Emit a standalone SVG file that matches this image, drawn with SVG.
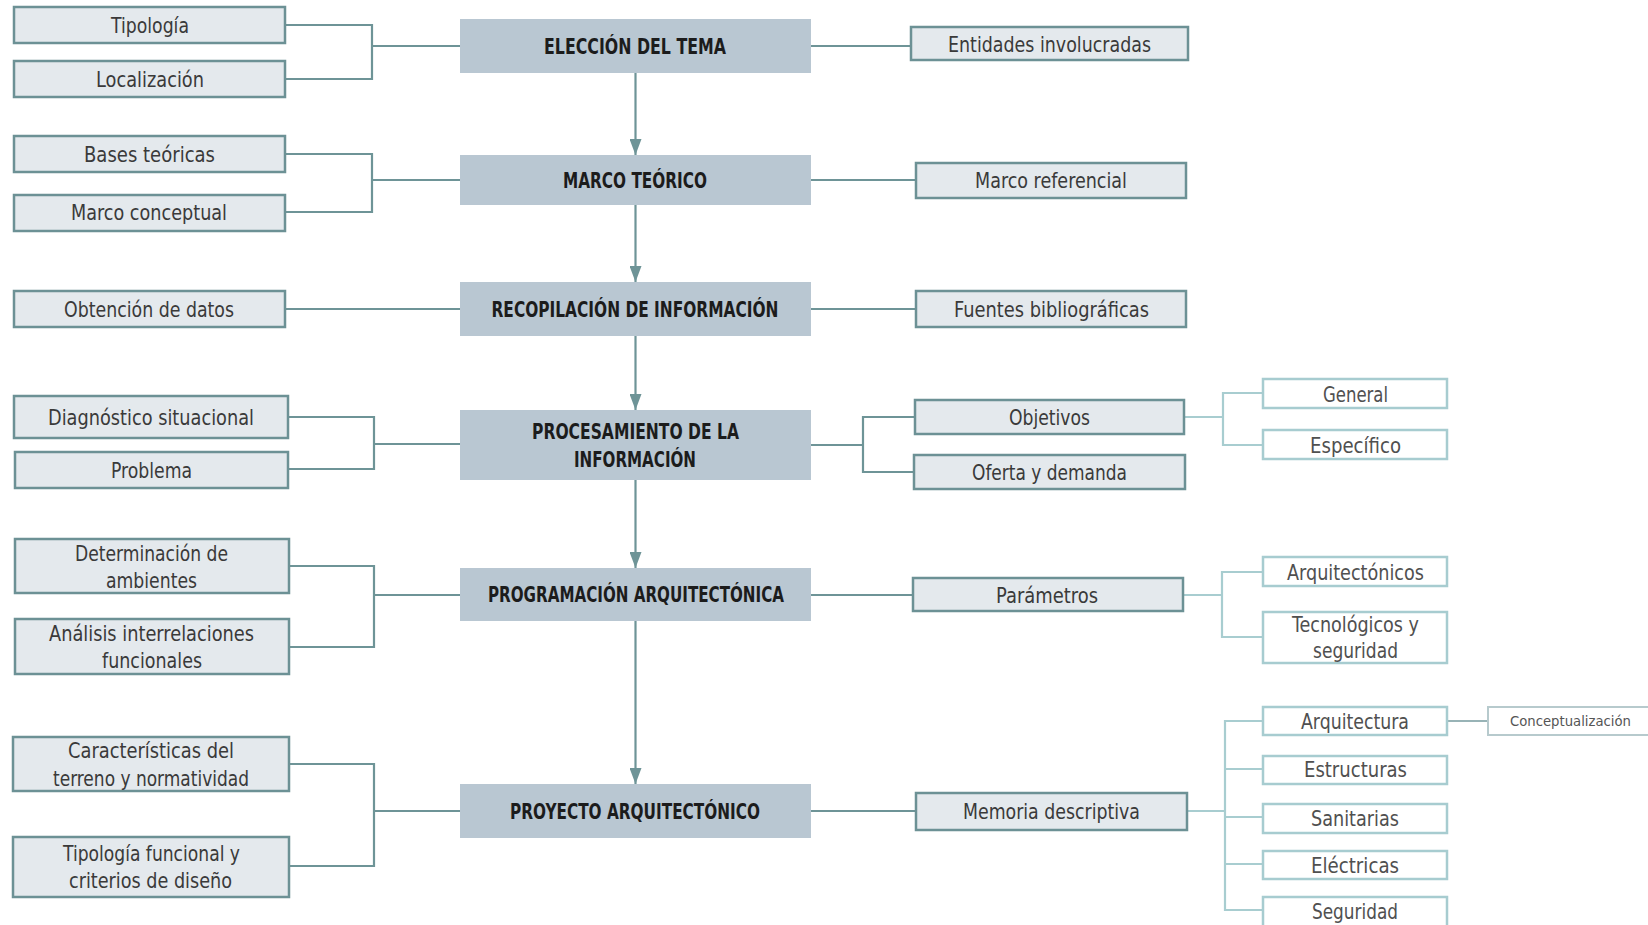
<svg xmlns="http://www.w3.org/2000/svg" width="1648" height="925" viewBox="0 0 1648 925">
<style>
  text { font-family: "DejaVu Sans Condensed", "Liberation Sans", sans-serif; text-anchor: middle; }
  .main rect { fill: #b9c7d2; }
  .main text { font-size: 21px; font-weight: bold; fill: #1c1c1c; }
  .sec rect { fill: #e4e9ed; stroke: #6c9195; stroke-width: 2.5; }
  .sec text { font-size: 20.5px; fill: #3a3a3a; }
  .ter rect { fill: #ffffff; stroke: #a7ccd0; stroke-width: 2.5; }
  .ter text { font-size: 20.5px; fill: #505050; }
  .con rect { fill: #ffffff; stroke: #b7cacd; stroke-width: 2; }
  .con text { font-size: 14.5px; fill: #555555; }
  .dark { fill: none; stroke: #6e9497; stroke-width: 2.2; }
  .light { fill: none; stroke: #a8cdd0; stroke-width: 2.2; }
  .mid { fill: none; stroke: #98b3b6; stroke-width: 2; }
</style>
<defs>
  <marker id="ah" markerUnits="userSpaceOnUse" markerWidth="16" markerHeight="12" refX="16" refY="6" orient="auto" viewBox="0 0 16 12">
    <path d="M0,0 L16,6 L0,12 z" fill="#6e9497"/>
  </marker>
</defs>
<rect x="0" y="0" width="1648" height="925" fill="#ffffff"/>

<g id="connectors">
  <path class="dark" d="M635.5,73 V155" marker-end="url(#ah)"/>
  <path class="dark" d="M635.5,205 V282" marker-end="url(#ah)"/>
  <path class="dark" d="M635.5,336 V410" marker-end="url(#ah)"/>
  <path class="dark" d="M635.5,480 V568" marker-end="url(#ah)"/>
  <path class="dark" d="M635.5,621 V784" marker-end="url(#ah)"/>

  <path class="dark" d="M285,25 H372 V79 H285 M372,46 H460"/>
  <path class="dark" d="M285,154 H372 V212 H285 M372,180 H460"/>
  <path class="dark" d="M285,309 H460"/>
  <path class="dark" d="M288,417 H374 V469 H288 M374,444 H460"/>
  <path class="dark" d="M288,566 H374 V647 H288 M374,595 H460"/>
  <path class="dark" d="M289,764 H374 V866 H289 M374,811 H460"/>

  <path class="dark" d="M811,46 H911"/>
  <path class="dark" d="M811,180 H916"/>
  <path class="dark" d="M811,309 H916"/>
  <path class="dark" d="M811,445 H863 M914,417 H863 V472 H914"/>
  <path class="dark" d="M811,595 H913"/>
  <path class="dark" d="M811,811 H916"/>

  <path class="light" d="M1184,417 H1223 M1263,393 H1223 V445 H1263"/>
  <path class="light" d="M1182,595 H1222 M1263,572 H1222 V637 H1263"/>
  <path class="light" d="M1187,811 H1225 M1263,721 H1225 V910 H1263 M1225,769 H1263 M1225,817 H1263 M1225,864 H1263"/>
  <path class="mid" d="M1447,721 H1488"/>
</g>

<g id="n-eleccion" class="main"><rect x="460" y="19" width="351" height="54"/><text x="635" y="54" textLength="182" lengthAdjust="spacingAndGlyphs">ELECCIÓN DEL TEMA</text></g>
<g id="n-marco" class="main"><rect x="460" y="155" width="351" height="50"/><text x="635" y="188" textLength="144" lengthAdjust="spacingAndGlyphs">MARCO TEÓRICO</text></g>
<g id="n-recopilacion" class="main"><rect x="460" y="282" width="351" height="54"/><text x="635" y="317" textLength="287" lengthAdjust="spacingAndGlyphs">RECOPILACIÓN DE INFORMACIÓN</text></g>
<g id="n-procesamiento" class="main"><rect x="460" y="410" width="351" height="70"/><text x="635.5" y="439" textLength="207" lengthAdjust="spacingAndGlyphs">PROCESAMIENTO DE LA</text><text x="635" y="467" textLength="122" lengthAdjust="spacingAndGlyphs">INFORMACIÓN</text></g>
<g id="n-programacion" class="main"><rect x="460" y="568" width="351" height="53"/><text x="636" y="602" textLength="296" lengthAdjust="spacingAndGlyphs">PROGRAMACIÓN ARQUITECTÓNICA</text></g>
<g id="n-proyecto" class="main"><rect x="460" y="784" width="351" height="54"/><text x="635" y="819" textLength="250" lengthAdjust="spacingAndGlyphs">PROYECTO ARQUITECTÓNICO</text></g>

<g id="n-tipologia" class="sec"><rect x="14" y="7" width="271" height="36"/><text x="150" y="33" textLength="78" lengthAdjust="spacingAndGlyphs">Tipología</text></g>
<g id="n-localizacion" class="sec"><rect x="14" y="61" width="271" height="36"/><text x="150" y="87" textLength="108" lengthAdjust="spacingAndGlyphs">Localización</text></g>
<g id="n-bases" class="sec"><rect x="14" y="136" width="271" height="36"/><text x="149.5" y="162" textLength="131" lengthAdjust="spacingAndGlyphs">Bases teóricas</text></g>
<g id="n-conceptual" class="sec"><rect x="14" y="195" width="271" height="36"/><text x="149" y="220" textLength="156" lengthAdjust="spacingAndGlyphs">Marco conceptual</text></g>
<g id="n-obtencion" class="sec"><rect x="14" y="291" width="271" height="36"/><text x="149" y="317" textLength="170" lengthAdjust="spacingAndGlyphs">Obtención de datos</text></g>
<g id="n-diagnostico" class="sec"><rect x="14" y="396" width="274" height="42"/><text x="151" y="425" textLength="206" lengthAdjust="spacingAndGlyphs">Diagnóstico situacional</text></g>
<g id="n-problema" class="sec"><rect x="15" y="452" width="273" height="36"/><text x="151.5" y="478" textLength="81" lengthAdjust="spacingAndGlyphs">Problema</text></g>
<g id="n-determinacion" class="sec"><rect x="15" y="539" width="274" height="54"/><text x="151.5" y="561" textLength="153" lengthAdjust="spacingAndGlyphs">Determinación de</text><text x="151.5" y="588" textLength="91" lengthAdjust="spacingAndGlyphs">ambientes</text></g>
<g id="n-analisis" class="sec"><rect x="15" y="619" width="274" height="55"/><text x="151.5" y="641" textLength="205" lengthAdjust="spacingAndGlyphs">Análisis interrelaciones</text><text x="152" y="668" textLength="100" lengthAdjust="spacingAndGlyphs">funcionales</text></g>
<g id="n-caracteristicas" class="sec"><rect x="13" y="737" width="276" height="54"/><text x="151" y="758" textLength="166" lengthAdjust="spacingAndGlyphs">Características del</text><text x="151" y="786" textLength="196" lengthAdjust="spacingAndGlyphs">terreno y normatividad</text></g>
<g id="n-tipfuncional" class="sec"><rect x="13" y="837" width="276" height="60"/><text x="151.5" y="861" textLength="177" lengthAdjust="spacingAndGlyphs">Tipología funcional y</text><text x="150.5" y="888" textLength="163" lengthAdjust="spacingAndGlyphs">criterios de diseño</text></g>

<g id="n-entidades" class="sec"><rect x="911" y="27" width="277" height="33"/><text x="1049.5" y="52" textLength="203" lengthAdjust="spacingAndGlyphs">Entidades involucradas</text></g>
<g id="n-referencial" class="sec"><rect x="916" y="163" width="270" height="35"/><text x="1051" y="188" textLength="152" lengthAdjust="spacingAndGlyphs">Marco referencial</text></g>
<g id="n-fuentes" class="sec"><rect x="916" y="291" width="270" height="36"/><text x="1051.5" y="317" textLength="195" lengthAdjust="spacingAndGlyphs">Fuentes bibliográficas</text></g>
<g id="n-objetivos" class="sec"><rect x="915" y="400" width="269" height="34"/><text x="1049.5" y="425" textLength="81" lengthAdjust="spacingAndGlyphs">Objetivos</text></g>
<g id="n-oferta" class="sec"><rect x="914" y="455" width="271" height="34"/><text x="1049.5" y="480" textLength="155" lengthAdjust="spacingAndGlyphs">Oferta y demanda</text></g>
<g id="n-parametros" class="sec"><rect x="913" y="578" width="270" height="33"/><text x="1047" y="603" textLength="102" lengthAdjust="spacingAndGlyphs">Parámetros</text></g>
<g id="n-memoria" class="sec"><rect x="916" y="793" width="271" height="37"/><text x="1051.5" y="819" textLength="177" lengthAdjust="spacingAndGlyphs">Memoria descriptiva</text></g>

<g id="n-general" class="ter"><rect x="1263" y="379" width="184" height="29"/><text x="1355.5" y="402" textLength="65" lengthAdjust="spacingAndGlyphs">General</text></g>
<g id="n-especifico" class="ter"><rect x="1263" y="430" width="184" height="29"/><text x="1355.5" y="453" textLength="91" lengthAdjust="spacingAndGlyphs">Específico</text></g>
<g id="n-arquitectonicos" class="ter"><rect x="1263" y="557" width="184" height="29"/><text x="1355.5" y="580" textLength="137" lengthAdjust="spacingAndGlyphs">Arquitectónicos</text></g>
<g id="n-tecnologicos" class="ter"><rect x="1263" y="612" width="184" height="51"/><text x="1355.5" y="632" textLength="127" lengthAdjust="spacingAndGlyphs">Tecnológicos y</text><text x="1355.5" y="658" textLength="85" lengthAdjust="spacingAndGlyphs">seguridad</text></g>
<g id="n-arquitectura" class="ter"><rect x="1263" y="707" width="184" height="28"/><text x="1355" y="729" textLength="108" lengthAdjust="spacingAndGlyphs">Arquitectura</text></g>
<g id="n-estructuras" class="ter"><rect x="1263" y="756" width="184" height="28"/><text x="1355.5" y="777" textLength="103" lengthAdjust="spacingAndGlyphs">Estructuras</text></g>
<g id="n-sanitarias" class="ter"><rect x="1263" y="804" width="184" height="29"/><text x="1355" y="826" textLength="88" lengthAdjust="spacingAndGlyphs">Sanitarias</text></g>
<g id="n-electricas" class="ter"><rect x="1263" y="851" width="184" height="28"/><text x="1355" y="873" textLength="88" lengthAdjust="spacingAndGlyphs">Eléctricas</text></g>
<g id="n-seguridad" class="ter"><rect x="1263" y="897" width="184" height="40"/><text x="1355" y="919" textLength="86" lengthAdjust="spacingAndGlyphs">Seguridad</text></g>
<g id="n-conceptualizacion" class="con"><rect x="1488" y="707" width="170" height="28"/><text x="1570.5" y="726" textLength="121" lengthAdjust="spacingAndGlyphs">Conceptualización</text></g>
</svg>
